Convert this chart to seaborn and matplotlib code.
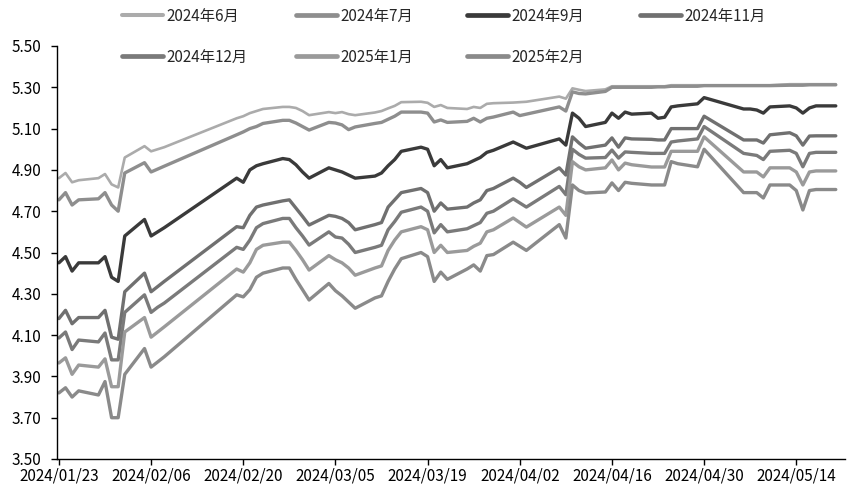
import matplotlib
matplotlib.use("Agg")
import numpy as np
import pandas as pd
import matplotlib.pyplot as plt
import matplotlib.dates as mdates
from matplotlib.lines import Line2D
import seaborn as sns

# trading days (exchange holidays removed)
holidays = ["2024-02-09", "2024-02-12", "2024-02-13", "2024-02-14", "2024-02-15",
            "2024-02-16", "2024-04-04", "2024-04-05", "2024-05-01", "2024-05-02",
            "2024-05-03"]
dates = pd.bdate_range("2024-01-23", "2024-05-20", freq="C", holidays=holidays)

labels = ["2024年6月", "2024年7月", "2024年9月", "2024年11月",
          "2024年12月", "2025年1月", "2025年2月"]

jun24 = [4.86, 4.885, 4.84, 4.85, 4.86, 4.88, 4.83, 4.815, 4.96, 5.015, 4.99, 5.00, 5.01,
         5.15, 5.16, 5.175, 5.185, 5.195, 5.205, 5.205, 5.20, 5.185, 5.165, 5.18, 5.175,
         5.18, 5.17, 5.165, 5.178, 5.185, 5.198, 5.21, 5.228, 5.23, 5.225, 5.205, 5.214,
         5.20, 5.195, 5.205, 5.20, 5.22, 5.223, 5.226, 5.228, 5.23, 5.255, 5.245, 5.295,
         5.288, 5.282, 5.29, 5.305, 5.305, 5.305, 5.305, 5.305, 5.305, 5.305, 5.31, 5.31,
         5.31, 5.31, 5.31, 5.31, 5.31, 5.31, 5.31, 5.315, 5.315, 5.315, 5.315, 5.315, 5.315]
jul24 = [4.755, 4.79, 4.73, 4.755, 4.76, 4.79, 4.73, 4.70, 4.885, 4.935, 4.89, 4.904, 4.918,
         5.07, 5.084, 5.10, 5.11, 5.125, 5.14, 5.14, 5.127, 5.11, 5.093, 5.13, 5.127,
         5.118, 5.095, 5.108, 5.125, 5.13, 5.145, 5.16, 5.18, 5.18, 5.175, 5.132, 5.142,
         5.13, 5.135, 5.15, 5.132, 5.15, 5.156, 5.18, 5.163, 5.17, 5.205, 5.185, 5.278,
         5.27, 5.268, 5.28, 5.30, 5.30, 5.30, 5.30, 5.30, 5.302, 5.302, 5.305, 5.305,
         5.305, 5.308, 5.308, 5.308, 5.308, 5.308, 5.308, 5.31, 5.31, 5.31, 5.312, 5.312, 5.312]
sep24 = [4.45, 4.48, 4.41, 4.45, 4.45, 4.48, 4.38, 4.36, 4.58, 4.66, 4.58, 4.60, 4.62,
         4.86, 4.84, 4.90, 4.92, 4.93, 4.955, 4.95, 4.925, 4.89, 4.86, 4.91, 4.90,
         4.89, 4.875, 4.86, 4.87, 4.885, 4.92, 4.95, 4.99, 5.01, 5.00, 4.92, 4.95,
         4.91, 4.93, 4.945, 4.96, 4.985, 4.995, 5.035, 5.02, 5.005, 5.05, 5.02, 5.175,
         5.15, 5.11, 5.13, 5.175, 5.15, 5.18, 5.17, 5.175, 5.15, 5.155, 5.205, 5.21,
         5.22, 5.25, 5.195, 5.195, 5.19, 5.175, 5.205, 5.21, 5.20, 5.175, 5.20, 5.21, 5.21]
nov24 = [4.18, 4.22, 4.155, 4.185, 4.185, 4.22, 4.09, 4.08, 4.31, 4.40, 4.31, 4.335, 4.36,
         4.625, 4.62, 4.68, 4.72, 4.73, 4.75, 4.755, 4.715, 4.675, 4.633, 4.68, 4.675,
         4.665, 4.645, 4.61, 4.635, 4.645, 4.72, 4.755, 4.79, 4.81, 4.79, 4.70, 4.74,
         4.71, 4.72, 4.74, 4.755, 4.80, 4.81, 4.86, 4.84, 4.815, 4.91, 4.875, 5.06,
         5.03, 5.005, 5.02, 5.055, 5.01, 5.055, 5.05, 5.048, 5.045, 5.045, 5.10, 5.10,
         5.10, 5.16, 5.045, 5.045, 5.045, 5.03, 5.07, 5.08, 5.065, 5.02, 5.064, 5.065, 5.065]
dec24 = [4.086, 4.115, 4.03, 4.076, 4.067, 4.11, 3.98, 3.98, 4.21, 4.295, 4.21, 4.235, 4.255,
         4.525, 4.515, 4.56, 4.62, 4.64, 4.665, 4.665, 4.62, 4.58, 4.536, 4.60, 4.575,
         4.57, 4.54, 4.50, 4.525, 4.535, 4.61, 4.65, 4.695, 4.72, 4.70, 4.595, 4.635,
         4.60, 4.615, 4.63, 4.645, 4.69, 4.70, 4.76, 4.74, 4.72, 4.82, 4.78, 5.00,
         4.975, 4.957, 4.96, 4.996, 4.957, 4.987, 4.985, 4.98, 4.98, 4.98, 5.035, 5.04,
         5.05, 5.11, 4.98, 4.975, 4.97, 4.95, 4.99, 4.995, 4.98, 4.915, 4.98, 4.985, 4.985]
jan25 = [3.965, 3.99, 3.91, 3.955, 3.945, 3.985, 3.85, 3.85, 4.115, 4.185, 4.09, 4.115, 4.14,
         4.42, 4.405, 4.45, 4.515, 4.535, 4.55, 4.55, 4.51, 4.465, 4.415, 4.485, 4.465,
         4.45, 4.425, 4.39, 4.425, 4.435, 4.51, 4.56, 4.60, 4.625, 4.61, 4.50, 4.535,
         4.50, 4.51, 4.53, 4.545, 4.60, 4.61, 4.667, 4.645, 4.623, 4.72, 4.68, 4.94,
         4.915, 4.90, 4.91, 4.948, 4.90, 4.933, 4.925, 4.914, 4.914, 4.914, 4.99, 4.99,
         4.99, 5.06, 4.89, 4.89, 4.89, 4.866, 4.91, 4.91, 4.89, 4.827, 4.89, 4.895, 4.895]
feb25 = [3.82, 3.845, 3.80, 3.83, 3.81, 3.875, 3.70, 3.70, 3.91, 4.035, 3.945, 3.97, 3.995,
         4.295, 4.285, 4.32, 4.38, 4.40, 4.425, 4.425, 4.37, 4.32, 4.27, 4.35, 4.315,
         4.29, 4.26, 4.23, 4.28, 4.29, 4.36, 4.42, 4.47, 4.50, 4.48, 4.36, 4.405,
         4.37, 4.42, 4.44, 4.41, 4.485, 4.49, 4.55, 4.53, 4.51, 4.635, 4.57, 4.827,
         4.80, 4.788, 4.793, 4.837, 4.80, 4.84, 4.835, 4.827, 4.827, 4.827, 4.94, 4.93,
         4.915, 5.00, 4.79, 4.79, 4.79, 4.764, 4.827, 4.827, 4.80, 4.706, 4.80, 4.805, 4.805]

series = [jun24, jul24, sep24, nov24, dec24, jan25, feb25]
colors = ["#ababab", "#8e8e8e", "#3a3a3a", "#707070", "#7a7a7a", "#9a9a9a", "#8a8a8a"]
widths = [1.9, 2.4, 2.4, 2.4, 2.4, 2.4, 2.4]

sns.set_style("ticks")
plt.rcParams["font.family"] = ["Liberation Sans Narrow", "Noto Sans CJK SC", "DejaVu Sans"]
plt.rcParams["axes.unicode_minus"] = False

fig = plt.figure(figsize=(8.47, 4.90), dpi=100)
ax = fig.add_axes([57 / 847, 31 / 490, 788 / 847, 413 / 490])

for name, vals, c, lw in zip(labels, series, colors, widths):
    df = pd.DataFrame({"date": dates, "value": vals})
    sns.lineplot(data=df, x="date", y="value", ax=ax, color=c, linewidth=lw, legend=False)

ax.set_xlim(dates[0] - pd.Timedelta(hours=7), dates[0] + pd.Timedelta(days=119.4))
ax.set_ylim(3.5, 5.5)
ax.set_yticks(np.arange(3.5, 5.51, 0.2))
ax.yaxis.set_major_formatter(matplotlib.ticker.FormatStrFormatter("%.2f"))
ax.set_xticks(pd.date_range("2024-01-23", periods=9, freq="14D"))
ax.xaxis.set_major_formatter(mdates.DateFormatter("%Y/%m/%d"))
ax.set_xlabel("")
ax.set_ylabel("")

for s in ["top", "right"]:
    ax.spines[s].set_visible(False)
for s in ["left", "bottom"]:
    ax.spines[s].set_color("black")
    ax.spines[s].set_linewidth(1)
ax.tick_params(axis="both", direction="out", length=4, width=1, color="black",
               labelsize=11, labelcolor="black")
ax.tick_params(axis="y", pad=7)
ax.tick_params(axis="x", pad=2)

# legend, laid out like the original: 4 slots per row
slots = [(122, 16), (296, 16), (467, 16), (640, 16), (122, 57), (296, 57), (467, 57)]
for name, c, lw, (px, py) in zip(labels, colors, widths, slots):
    h = Line2D([], [], color=c, linewidth=lw + 1)
    fig.legend(handles=[h], labels=[name], loc="center left",
               bbox_to_anchor=(px / 847, 1 - py / 490), frameon=False,
               handlelength=2.7, handletextpad=0.2, borderpad=0, borderaxespad=0,
               fontsize=11)

fig.savefig("out.png", dpi=100)
